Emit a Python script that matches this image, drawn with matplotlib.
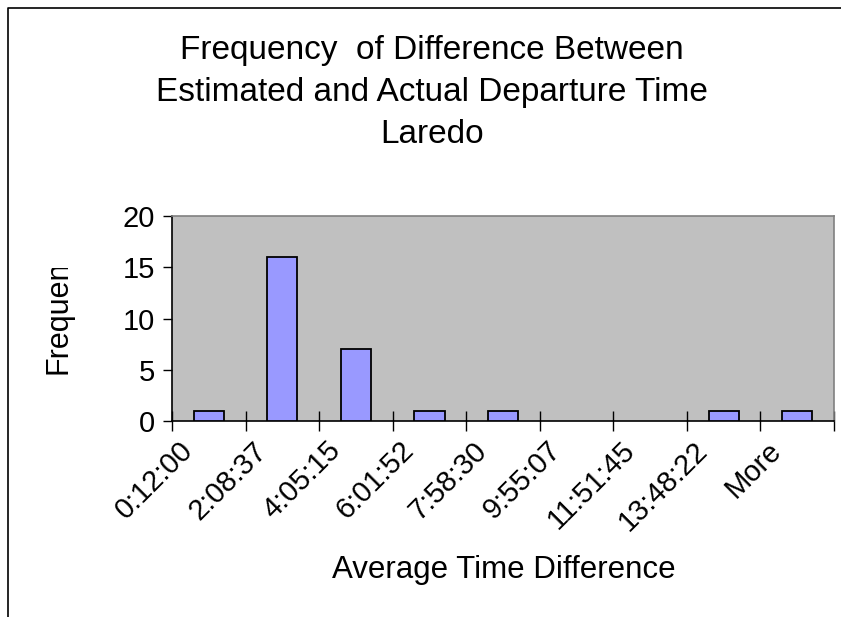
import matplotlib
matplotlib.use("Agg")
import matplotlib.pyplot as plt
from matplotlib.lines import Line2D
from matplotlib.transforms import Bbox, ScaledTranslation

plt.rcParams['font.family'] = ['Liberation Sans', 'DejaVu Sans']

# Histogram bins (upper bound of each bin) and counts
bins = ["0:12:00", "2:08:37", "4:05:15", "6:01:52", "7:58:30",
        "9:55:07", "11:51:45", "13:48:22", "More"]
counts = [1, 16, 7, 1, 1, 0, 0, 1, 1]
y_ticks = [0, 5, 10, 15, 20]
title_lines = ["Frequency  of Difference Between",
               "Estimated and Actual Departure Time",
               "Laredo"]

W, H = 841, 617
fig = plt.figure(figsize=(W / 100, H / 100), dpi=100)
fig.patch.set_facecolor("white")

# chart frame (left and top edges visible)
fig.add_artist(Line2D([8 / W, 8 / W, 1.0], [0.0, 1 - 8 / H, 1 - 8 / H],
                      transform=fig.transFigure, color="black", lw=1.2))

left, right = 172 / W, 834 / W
bottom, top = 1 - 421 / H, 1 - 216 / H
ax = fig.add_axes([left, bottom, right - left, top - bottom])
ax.set_facecolor("#C0C0C0")

x = list(range(len(bins)))
ax.bar(x, counts, width=0.41, color="#9999FF", edgecolor="black",
       linewidth=[1.3 if c > 0 else 0 for c in counts], zorder=3)

ax.set_xlim(-0.5, len(bins) - 0.5)
ax.set_ylim(0, 20)
ax.set_yticks(y_ticks)
ax.set_yticklabels([str(v) for v in y_ticks], fontsize=21)
ax.tick_params(axis="y", direction="out", length=6.5, width=1, pad=6)

# category tick marks sit on bin boundaries, labels on bin centres
ax.set_xticks([i - 0.5 for i in range(len(bins) + 1)])
ax.set_xticklabels([])
ax.tick_params(axis="x", which="major", direction="inout", length=15, width=1)
ax.set_xticks(x, minor=True)
ax.set_xticklabels(bins, minor=True, fontsize=21, rotation=45,
                   ha="right", va="top", rotation_mode="anchor")
ax.tick_params(axis="x", which="minor", length=0, pad=11)
shift = ScaledTranslation(-30 / 100, 0, fig.dpi_scale_trans)
for lbl in ax.get_xticklabels(minor=True):
    lbl.set_transform(lbl.get_transform() + shift)

for side in ("left", "bottom"):
    ax.spines[side].set_color("black")
    ax.spines[side].set_linewidth(1.2)
for side in ("top", "right"):
    ax.spines[side].set_color("#808080")
    ax.spines[side].set_linewidth(1.2)

for i, line in enumerate(title_lines):
    fig.text(432 / W, 1 - (59 + 42 * i) / H, line,
             ha="center", va="baseline", fontsize=24)

fig.text(504 / W, 1 - 578 / H, "Average Time Difference",
         ha="center", va="baseline", fontsize=22.5)

# the axis title is cut off by the chart's plot area, as in the workbook
ylab = fig.text(58 / W, 1 - 374 / H, "Frequency", rotation=90,
                ha="center", va="bottom", fontsize=22)
ylab.set_clip_box(Bbox.from_extents(0, 0, W, H - 268))
ylab.set_clip_on(True)

fig.savefig("out.png", dpi=100, facecolor="white")
